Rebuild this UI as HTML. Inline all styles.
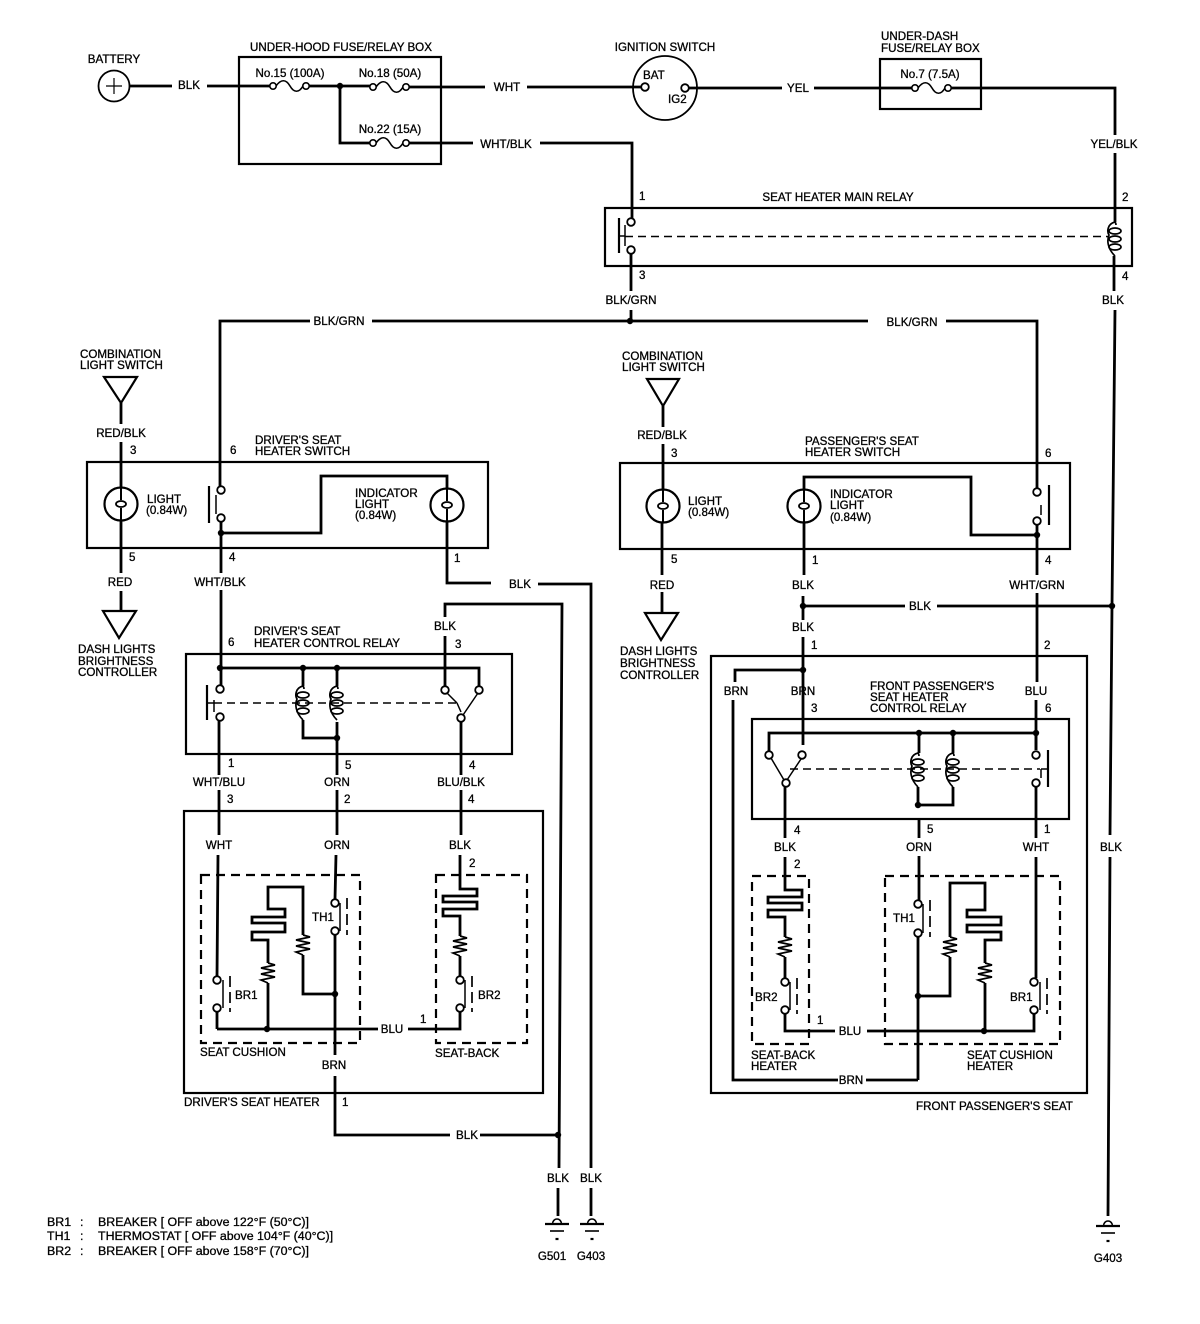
<!DOCTYPE html>
<html><head><meta charset="utf-8"><title>Seat heater wiring diagram</title>
<style>
html,body{margin:0;padding:0;background:#fff}
svg{display:block}
text{font-family:"Liberation Sans",sans-serif;font-size:11.6px;fill:#000;stroke:#000;stroke-width:.3px}
.w{fill:none;stroke:#000;stroke-width:2.8;stroke-linejoin:miter}
.b{fill:none;stroke:#000;stroke-width:2.2}
.t{fill:none;stroke:#000;stroke-width:1.5}
.d{fill:none;stroke:#000;stroke-width:2.2;stroke-dasharray:9 6}
.dt{fill:none;stroke:#000;stroke-width:1.4;stroke-dasharray:8 5}
.c{text-anchor:middle}
.lg{font-size:12.4px}
</style></head><body>
<svg width="1200" height="1324" viewBox="0 0 1200 1324" xmlns="http://www.w3.org/2000/svg">
<defs>
<g id="term"><circle r="3.8" fill="#fff" stroke="#000" stroke-width="1.8"/></g>
<g id="dot"><circle r="3.2" fill="#000"/></g>
<g id="fuse"><path d="M3 0C8 -7 13 -7 17 0S26 7 30 0" fill="none" stroke="#000" stroke-width="1.6"/><circle cx="0" r="3.2" fill="#fff" stroke="#000" stroke-width="1.6"/><circle cx="33" r="3.2" fill="#fff" stroke="#000" stroke-width="1.6"/></g>
<g id="coil" fill="none" stroke="#000" stroke-width="1.7"><path d="M0 0C-8 2 -8 10 -6 13C-8 18 -8 26 0 34"/><path d="M0 0C1 1 1 2 1 3"/><ellipse cx="0" cy="9" rx="6" ry="3"/><ellipse cx="0" cy="17" rx="6" ry="3"/><ellipse cx="0" cy="25" rx="6" ry="3"/></g>
<g id="res"><polyline points="0,0 7,2 -7,5 7,8 -7,11 7,14 -7,17 0,20" fill="none" stroke="#000" stroke-width="1.7"/></g>
<g id="bulb"><circle r="16.5" fill="#fff" stroke="#000" stroke-width="2.2"/><path d="M0 -17V-4M0 4V17" stroke="#000" stroke-width="2"/><ellipse rx="5" ry="3" fill="#fff" stroke="#000" stroke-width="1.8"/></g>
<g id="gnd" fill="none" stroke="#000"><path d="M-4.5 0A4.5 5 0 0 1 4.5 0" stroke-width="1.6"/><path d="M-12 0H12" stroke-width="2.2"/><path d="M-7 7H7" stroke-width="1.6"/><path d="M-1.5 15H1.5" stroke-width="2.2"/></g>
</defs>

<!-- TOP WIRES -->
<path class="w" d="M129 86H172M207 86H270M306 86H372M406 87H485M527 87H642M340 86V143H372M406 143H473M540 143H632V219"/>
<use href="#dot" x="340" y="86"/>
<path class="w" d="M688 88H782M814 88H913M949 88H1115V135M1115 153V222"/>
<circle cx="114" cy="86" r="15.500" fill="#fff" stroke="#000" stroke-width="1.8"/>
<path d="M106 86H122M114 78V94" stroke="#000" stroke-width="1.2"/>
<rect class="b" x="239" y="57" width="202" height="107"/>
<rect class="b" x="880" y="59" width="101" height="50"/>
<use href="#fuse" x="273" y="86"/><use href="#fuse" x="373" y="87"/><use href="#fuse" x="373" y="143"/><use href="#fuse" x="915" y="88"/>
<circle cx="665" cy="88" r="32" fill="none" stroke="#000" stroke-width="1.8"/>
<use href="#term" x="645" y="87"/><use href="#term" x="685" y="88"/>
<text class="c" x="114" y="63">BATTERY</text>
<text class="c" x="341" y="51">UNDER-HOOD FUSE/RELAY BOX</text>
<text class="c" x="290" y="77">No.15 (100A)</text>
<text class="c" x="390" y="77">No.18 (50A)</text>
<text class="c" x="390" y="133">No.22 (15A)</text>
<text class="c" x="189" y="89">BLK</text>
<text class="c" x="507" y="91">WHT</text>
<text class="c" x="506" y="148">WHT/BLK</text>
<text class="c" x="665" y="51">IGNITION SWITCH</text>
<text x="643" y="79">BAT</text><text x="668" y="103">IG2</text>
<text class="c" x="798" y="92">YEL</text>
<text x="881" y="40">UNDER-DASH</text><text x="881" y="52">FUSE/RELAY BOX</text>
<text class="c" x="930" y="78">No.7 (7.5A)</text>
<text class="c" x="1114" y="148">YEL/BLK</text>

<!-- MAIN RELAY -->
<rect class="b" x="605" y="208" width="527" height="58"/>
<text class="c" x="838" y="201">SEAT HEATER MAIN RELAY</text>
<text x="639" y="200">1</text><text x="1122" y="201">2</text><text x="639" y="279">3</text><text x="1122" y="280">4</text>
<path class="b" d="M619 218V253" stroke-width="2"/><path class="t" d="M619 236H625M625 225V246"/>
<path class="dt" d="M625 236.500H1108"/>
<use href="#term" x="631" y="222"/><use href="#term" x="631" y="250"/>
<use href="#coil" x="1115" y="222"/>
<path class="w" d="M631 254V291M631 310V321M1114 256V291"/>
<text class="c" x="631" y="304">BLK/GRN</text>
<text class="c" x="1113" y="304">BLK</text>
<path class="w" d="M310 321H220V487M372 321H868M946 321H1037V488"/>
<use href="#dot" x="630" y="321"/>
<text class="c" x="339" y="325">BLK/GRN</text>
<text class="c" x="912" y="326">BLK/GRN</text>
<path class="w" d="M1115 310L1112 606L1110 835M1110 857L1108 1216"/>
<text class="c" x="1111" y="851">BLK</text>
<use href="#gnd" x="1108" y="1226"/>
<text class="c" x="1108" y="1262">G403</text>

<!-- DRIVER SWITCH -->
<text x="80" y="358">COMBINATION</text><text x="80" y="369">LIGHT SWITCH</text>
<path class="b" d="M104 377H137L121 403Z" stroke-width="1.8"/>
<path class="w" d="M121 403V424M121 442V490M121 520V573M121 591V611"/>
<text class="c" x="121" y="437">RED/BLK</text>
<text x="130" y="454">3</text><text x="230" y="454">6</text>
<text x="255" y="444">DRIVER'S SEAT</text><text x="255" y="455">HEATER SWITCH</text>
<rect class="b" x="87" y="462" width="401" height="86"/>
<use href="#bulb" x="121" y="504"/>
<text x="147" y="503">LIGHT</text><text x="146" y="514">(0.84W)</text>
<path class="b" d="M209 486V523" stroke-width="2"/><path class="t" d="M216 495V514"/>
<use href="#term" x="221" y="490"/><use href="#term" x="221" y="518"/>
<path class="w" d="M221 522V573M221 590V685M221 533H321V476H447V490M447 520V583H491M538 584H591V1168M591 1188V1216M445 689V636M445 617V604H562L559 1168M558 1188V1216"/>
<use href="#dot" x="221" y="533"/>
<text x="355" y="497">INDICATOR</text><text x="355" y="508">LIGHT</text><text x="355" y="519">(0.84W)</text>
<use href="#bulb" x="447" y="505"/>
<text x="129" y="561">5</text><text x="229" y="561">4</text><text x="454" y="562">1</text>
<text class="c" x="120" y="586">RED</text>
<text class="c" x="220" y="586">WHT/BLK</text>
<text class="c" x="520" y="588">BLK</text>
<path class="b" d="M103 611H136L119 638Z" stroke-width="1.8"/>
<text x="78" y="653">DASH LIGHTS</text><text x="78" y="665">BRIGHTNESS</text><text x="78" y="676">CONTROLLER</text>

<!-- DRIVER RELAY -->
<text x="254" y="635">DRIVER'S SEAT</text><text x="254" y="647">HEATER CONTROL RELAY</text>
<text class="c" x="445" y="630">BLK</text><text x="228" y="646">6</text><text x="455" y="648">3</text>
<rect class="b" x="186" y="654" width="326" height="100"/>
<path class="w" d="M219 668H479V688M303 668V686M337 668V686M303 720V738H337M337 722V775M337 790V835M336 855L335 899M335 935V1055M335 1076V1135H450M480 1135H560M219 721V775M219 790V835M218 855L217 977M217 1012V1029M461 722V775M461 790V835M460 855V889H477V896H443V902H477V909H443V916H460V936M460 956V977M460 1012V1029H408M378 1029H217M268 1029V983M268 963V940H252V932H285V923H252V917H285V909H268V887H303V935M303 955V994H335"/>
<use href="#dot" x="220" y="668"/><use href="#dot" x="303" y="668"/><use href="#dot" x="337" y="668"/><use href="#dot" x="337" y="738"/>
<path class="b" d="M207 685V720" stroke-width="2"/><path class="t" d="M207 703H214M214 700V712"/>
<path class="dt" d="M214 703H456"/>
<use href="#term" x="220" y="689"/><use href="#term" x="220" y="717"/>
<use href="#coil" x="303" y="686"/><use href="#coil" x="337" y="686"/>
<path class="t" d="M447 693L457 703M478 693L461 718M457 703L461 712"/>
<use href="#term" x="445" y="690"/><use href="#term" x="479" y="690"/><use href="#term" x="461" y="718"/>
<text x="228" y="767">1</text><text x="345" y="769">5</text><text x="469" y="769">4</text>
<text class="c" x="219" y="786">WHT/BLU</text>
<text class="c" x="337" y="786">ORN</text>
<text class="c" x="461" y="786">BLU/BLK</text>
<text x="227" y="803">3</text><text x="344" y="803">2</text><text x="468" y="803">4</text>

<!-- DRIVER HEATER -->
<rect class="b" x="184" y="811" width="359" height="282"/>
<rect class="d" x="201" y="875" width="159" height="168"/>
<rect class="d" x="436" y="875" width="91" height="168"/>
<text class="c" x="219" y="849">WHT</text><text class="c" x="337" y="849">ORN</text><text class="c" x="460" y="849">BLK</text>
<text x="469" y="867">2</text>
<use href="#term" x="217" y="980"/><use href="#term" x="217" y="1008"/>
<use href="#term" x="335" y="903"/><use href="#term" x="335" y="931"/>
<use href="#term" x="460" y="980"/><use href="#term" x="460" y="1008"/>
<path class="t" d="M223 980V1008M340 903V931M465 980V1008"/>
<path class="dt" d="M230 976V1012M347 898V935M472 976V1012" style="stroke-dasharray:11 5;stroke-width:1.7"/>
<use href="#res" x="268" y="963"/><use href="#res" x="303" y="935"/><use href="#res" x="460" y="936"/>
<use href="#dot" x="267" y="1029"/><use href="#dot" x="335" y="994"/>
<text x="235" y="999">BR1</text><text x="312" y="921">TH1</text><text x="478" y="999">BR2</text>
<text class="c" x="392" y="1033">BLU</text><text x="420" y="1023">1</text>
<text x="200" y="1056">SEAT CUSHION</text><text x="435" y="1057">SEAT-BACK</text>
<text class="c" x="334" y="1069">BRN</text>
<text x="184" y="1106">DRIVER'S SEAT HEATER</text><text x="342" y="1106">1</text>
<text class="c" x="467" y="1139">BLK</text>
<use href="#dot" x="558" y="1135"/>
<text class="c" x="558" y="1182">BLK</text><text class="c" x="591" y="1182">BLK</text>
<use href="#gnd" x="557" y="1224"/><use href="#gnd" x="592" y="1224"/>
<text class="c" x="552" y="1260">G501</text><text class="c" x="591" y="1260">G403</text>

<!-- LEGEND -->
<text class="lg" x="47" y="1226">BR1</text><text class="lg" x="80" y="1226">:</text><text class="lg" x="98" y="1226">BREAKER [ OFF above 122°F (50°C)]</text>
<text class="lg" x="47" y="1240">TH1</text><text class="lg" x="80" y="1240">:</text><text class="lg" x="98" y="1240">THERMOSTAT [ OFF above 104°F (40°C)]</text>
<text class="lg" x="47" y="1255">BR2</text><text class="lg" x="80" y="1255">:</text><text class="lg" x="98" y="1255">BREAKER [ OFF above 158°F (70°C)]</text>

<!-- PASSENGER SWITCH -->
<text x="622" y="360">COMBINATION</text><text x="622" y="371">LIGHT SWITCH</text>
<path class="b" d="M647 379H679L663 406Z" stroke-width="1.8"/>
<path class="w" d="M663 406V427M663 444V490M662 522V575M662 592V613"/>
<text class="c" x="662" y="439">RED/BLK</text>
<text x="671" y="457">3</text><text x="1045" y="457">6</text>
<text x="805" y="445">PASSENGER'S SEAT</text><text x="805" y="456">HEATER SWITCH</text>
<rect class="b" x="620" y="463" width="450" height="86"/>
<use href="#bulb" x="663" y="506"/><use href="#bulb" x="804" y="506"/>
<text x="688" y="505">LIGHT</text><text x="688" y="516">(0.84W)</text>
<text x="830" y="498">INDICATOR</text><text x="830" y="509">LIGHT</text><text x="830" y="521">(0.84W)</text>
<path class="w" d="M804 490V477H971V535H1037M804 522V575M803 596V620M803 637V745M803 670H735V682M733 700V1080H838M866 1080H918M919 819V838M919 856V901M918 937V1080M1037 525V575M1037 593V682M1036 700V750"/>
<use href="#term" x="1037" y="492"/><use href="#term" x="1037" y="521"/>
<path class="b" d="M1049 485V525" stroke-width="2"/><path class="t" d="M1041 505V515"/>
<use href="#dot" x="1037" y="535"/>
<text x="671" y="563">5</text><text x="812" y="564">1</text><text x="1045" y="564">4</text>
<text class="c" x="662" y="589">RED</text><text class="c" x="803" y="589">BLK</text><text class="c" x="1037" y="589">WHT/GRN</text>
<path class="b" d="M645 613H678L661 640Z" stroke-width="1.8"/>
<text x="620" y="655">DASH LIGHTS</text><text x="620" y="667">BRIGHTNESS</text><text x="620" y="679">CONTROLLER</text>
<path class="w" d="M803 606H905M937 606H1112"/>
<use href="#dot" x="803" y="606"/><use href="#dot" x="1112" y="606"/>
<text class="c" x="920" y="610">BLK</text>
<text class="c" x="803" y="631">BLK</text>
<text x="811" y="649">1</text><text x="1044" y="649">2</text>

<!-- PASSENGER RELAY -->
<rect class="b" x="711" y="656" width="376" height="437"/>
<use href="#dot" x="803" y="670"/>
<text class="c" x="736" y="695">BRN</text><text class="c" x="803" y="695">BRN</text><text class="c" x="1036" y="695">BLU</text>
<text x="870" y="690">FRONT PASSENGER'S</text><text x="870" y="701">SEAT HEATER</text><text x="870" y="712">CONTROL RELAY</text>
<text x="811" y="712">3</text><text x="1045" y="712">6</text>
<rect class="b" x="752" y="719" width="317" height="100"/>
<path class="w" d="M769 752V733H1036V750M919 733V753M953 733V753M918 787V805H953V787"/>
<use href="#dot" x="919" y="733"/><use href="#dot" x="953" y="733"/><use href="#dot" x="1036" y="733"/><use href="#dot" x="918" y="805"/>
<path class="t" d="M771 758L784 780M801 759L787 780"/>
<use href="#term" x="769" y="755"/><use href="#term" x="802" y="755"/><use href="#term" x="786" y="783"/>
<path class="dt" d="M790 769H1040"/>
<use href="#coil" x="918" y="753"/><use href="#coil" x="953" y="753"/>
<use href="#term" x="1036" y="755"/><use href="#term" x="1036" y="783"/>
<path class="b" d="M1048 750V787" stroke-width="2"/><path class="t" d="M1041 769H1048M1041 769V778"/>

<!-- PASSENGER HEATER -->
<path class="w" d="M785 787V838M785 857V890H802V897H768V903H802V910H768V917H785V937M785 957V978M785 1014V1031H835M867 1031H1034V1014M1036 787V838M1036 857V978M918 996H950V957M950 937V883H985V910H967V917H1001V925H967V932H1001V940H985V963M985 983V1031"/>
<rect class="d" x="752" y="876" width="57" height="168"/>
<rect class="d" x="885" y="876" width="175" height="168"/>
<text x="794" y="834">4</text><text x="927" y="833">5</text><text x="1044" y="833">1</text>
<text class="c" x="785" y="851">BLK</text><text class="c" x="919" y="851">ORN</text><text class="c" x="1036" y="851">WHT</text><text x="794" y="868">2</text>
<use href="#term" x="785" y="982"/><use href="#term" x="785" y="1010"/>
<use href="#term" x="918" y="904"/><use href="#term" x="918" y="933"/>
<use href="#term" x="1034" y="982"/><use href="#term" x="1034" y="1010"/>
<path class="t" d="M790 982V1010M923 904V933M1040 982V1010"/>
<path class="dt" d="M797 978V1014M930 900V937M1047 978V1014" style="stroke-dasharray:11 5;stroke-width:1.7"/>
<use href="#res" x="785" y="937"/><use href="#res" x="950" y="937"/><use href="#res" x="985" y="963"/>
<use href="#dot" x="918" y="996"/><use href="#dot" x="984" y="1031"/>
<text x="755" y="1001">BR2</text><text x="893" y="922">TH1</text><text x="1010" y="1001">BR1</text>
<text class="c" x="850" y="1035">BLU</text><text x="817" y="1024">1</text>
<text x="751" y="1059">SEAT-BACK</text><text x="751" y="1070">HEATER</text>
<text x="967" y="1059">SEAT CUSHION</text><text x="967" y="1070">HEATER</text>
<text class="c" x="851" y="1084">BRN</text>
<text x="916" y="1110">FRONT PASSENGER'S SEAT</text>
</svg>
</body></html>
